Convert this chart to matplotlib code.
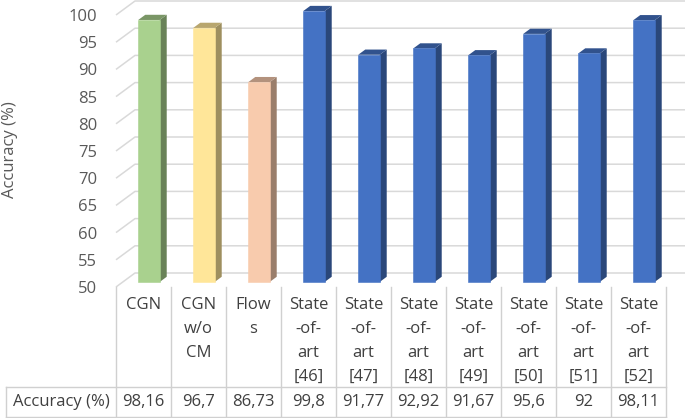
"""Accuracy comparison: Excel-style 3D column chart with a data table below."""
import matplotlib
matplotlib.use("Agg")
import matplotlib.pyplot as plt
import matplotlib.colors as mcolors
from matplotlib.patches import Polygon

plt.rcParams["font.family"] = ["Open Sans", "DejaVu Sans"]

categories = ["CGN", "CGN\nw/o\nCM", "Flow\ns",
              "State\n-of-\nart\n[46]", "State\n-of-\nart\n[47]",
              "State\n-of-\nart\n[48]", "State\n-of-\nart\n[49]",
              "State\n-of-\nart\n[50]", "State\n-of-\nart\n[51]",
              "State\n-of-\nart\n[52]"]
accuracy = [98.16, 96.7, 86.73, 99.8, 91.77, 92.92, 91.67, 95.6, 92, 98.11]
bar_colors = ["#A9D18E", "#FFE699", "#F8CBAD"] + ["#4472C4"] * 7
row_label = "Accuracy (%)"
yticks = list(range(50, 101, 5))

W, H = 685, 418
PX = 55.0                 # pixels per category column
PY = (287 - 15) / 50.0    # pixels per accuracy unit
DX, DY = 19 / PX, 14 / PY # 3D depth offset in data units
GRID = "#d9d9d9"
TABLE = "#d0d0d0"
TICK_C = "#595959"
TEXT_C = "#404040"
FS = 12


def proj(x, y, d):
    return (x + d * DX, y + d * DY)


def shade(c, f):
    r, g, b = mcolors.to_rgb(c)
    return (r * f, g * f, b * f)


fig = plt.figure(figsize=(W / 100, H / 100), dpi=100)

# main 3D-looking plot area: front plane x 116 -> 666 px, y 287 (50) -> 15 (100)
ax = fig.add_axes([116 / W, (H - 287) / H, (W - 116) / W, 287 / H])
ax.set_xlim(0, 10 + DX)
ax.set_ylim(50, 50 + 287 / PY)
for s in ax.spines.values():
    s.set_visible(False)
ax.set_xticks([])
ax.set_yticks(yticks)
ax.set_yticklabels([str(t) for t in yticks], fontsize=FS, color=TICK_C)
ax.tick_params(axis="y", length=0, pad=13.5)
# tick labels sit on the front plane, gridlines on the back wall
for v in yticks:
    x0, y0 = proj(0, v, 0)
    x1, y1 = proj(0, v, 1)
    ax.plot([x0, x1, 10 + DX], [y0, y1, y1], color=GRID, lw=1.1,
            zorder=1, clip_on=False, solid_capstyle="butt")

d0, d1 = 0.36, 0.73
bw, off = 0.39, 0.28
for i, (v, c) in enumerate(zip(accuracy, bar_colors)):
    xl, xr = i + off, i + off + bw
    front = [proj(xl, 50, d0), proj(xr, 50, d0), proj(xr, v, d0), proj(xl, v, d0)]
    side = [proj(xr, 50, d0), proj(xr, 50, d1), proj(xr, v, d1), proj(xr, v, d0)]
    top = [proj(xl, v, d0), proj(xr, v, d0), proj(xr, v, d1), proj(xl, v, d1)]
    ax.add_patch(Polygon(side, closed=True, fc=shade(c, 0.62), ec="none", zorder=3))
    ax.add_patch(Polygon(top, closed=True, fc=shade(c, 0.72), ec="none", zorder=3))
    ax.add_patch(Polygon(front, closed=True, fc=c, ec=c, lw=0.4, zorder=4))

fig.text(10 / W, 1 - 150 / H, "Accuracy (%)", rotation=90, ha="center",
         va="center", fontsize=FS, color=TICK_C)

# data table: x 6 -> 666 px as -2 -> 10, y 287 -> 417 px as 0 -> 130
tb = fig.add_axes([6 / W, (H - 417) / H, 660 / W, 130 / H])
tb.set_xlim(-2, 10)
tb.set_ylim(130, 0)
tb.axis("off")
for k in range(11):
    tb.plot([k, k], [0, 130], color=TABLE, lw=1.0, clip_on=False)
tb.plot([-2, 10], [100, 100], color=TABLE, lw=1.0, clip_on=False)
tb.plot([-2, 10], [130, 130], color=TABLE, lw=1.0, clip_on=False)
tb.plot([-2, -2], [100, 130], color=TABLE, lw=1.0, clip_on=False)

for i, lab in enumerate(categories):
    for j, line in enumerate(lab.split("\n")):
        tb.text(i + 0.5, 18 + 24 * j, line, ha="center", va="center",
                fontsize=FS, color=TEXT_C)
    tb.text(i + 0.5, 115, f"{accuracy[i]:g}".replace(".", ","), ha="center",
            va="center", fontsize=FS, color=TEXT_C)
tb.text(-1, 115, row_label, ha="center", va="center", fontsize=FS, color=TEXT_C)

fig.savefig("out.png", dpi=100)
